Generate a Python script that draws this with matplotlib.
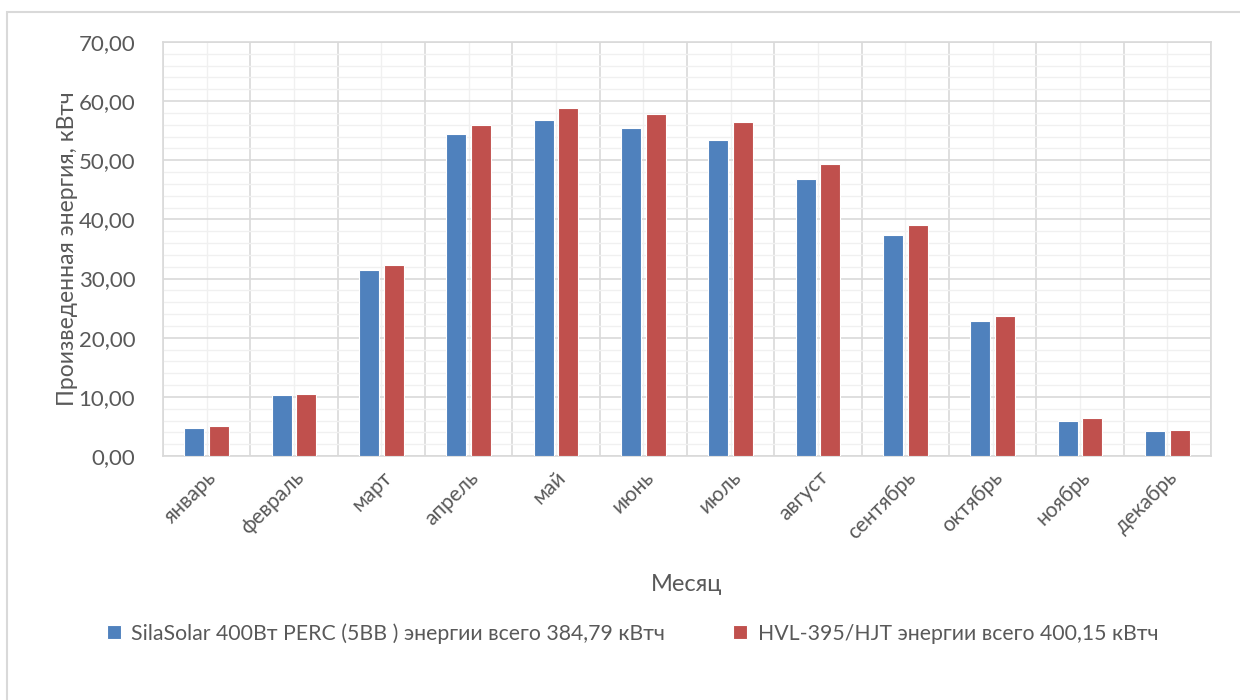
import matplotlib
matplotlib.use("Agg")
import matplotlib.pyplot as plt
import numpy as np
from matplotlib.ticker import MultipleLocator, FixedLocator, FuncFormatter
from matplotlib.patches import Rectangle

# --- данные ---
months = ["январь", "февраль", "март", "апрель", "май", "июнь",
          "июль", "август", "сентябрь", "октябрь", "ноябрь", "декабрь"]
perc = [4.80, 10.26, 31.50, 54.45, 56.80, 55.50,
        53.50, 46.80, 37.30, 22.80, 5.90, 4.17]
hjt = [5.07, 10.48, 32.35, 55.97, 58.80, 57.90,
       56.40, 49.40, 39.06, 23.70, 6.37, 4.40]
label_perc = "SilaSolar 400Вт PERC (5BB ) энергии всего 384,79 кВтч"
label_hjt = "HVL-395/HJT энергии всего 400,15 кВтч"

BLUE = "#4f81bd"
RED = "#c0504d"
TXT = "#595959"
GRID = "#d9d9d9"
MINOR = "#f0f0f0"

plt.rcParams["font.family"] = ["Lato", "DejaVu Sans"]

fig = plt.figure(figsize=(12.4, 7.0), dpi=100)
fig.patches.append(Rectangle((7 / 1240, -0.1), 1.2, 1 - 12 / 700 + 0.1,
                             transform=fig.transFigure, fill=False,
                             edgecolor="#d9d9d9", linewidth=1.5))

ax = fig.add_axes([163 / 1240, 1 - 456 / 700, (1211 - 163) / 1240, (456 - 42) / 700])

x = np.arange(len(months))
w = 0.23
ax.bar(x - 0.14, perc, w, color=BLUE, edgecolor="white", linewidth=0.8,
       label=label_perc, zorder=3)
ax.bar(x + 0.14, hjt, w, color=RED, edgecolor="white", linewidth=0.8,
       label=label_hjt, zorder=3)

ax.set_xlim(-0.5, len(months) - 0.5)
ax.set_ylim(0, 70)

ax.yaxis.set_major_locator(MultipleLocator(10))
ax.yaxis.set_minor_locator(MultipleLocator(2))
ax.yaxis.set_major_formatter(FuncFormatter(lambda v, p: f"{v:.2f}".replace(".", ",")))
ax.set_xticks(x)
ax.set_xticklabels(months, rotation=45, ha="right", rotation_mode="anchor")
ax.xaxis.set_minor_locator(FixedLocator(np.arange(-0.5, len(months), 1.0)))

ax.grid(which="major", axis="y", color=GRID, linewidth=1.2, zorder=0)
ax.grid(which="minor", axis="y", color=MINOR, linewidth=1.0, zorder=0)
ax.grid(which="minor", axis="x", color=GRID, linewidth=1.2, zorder=0)
ax.grid(which="major", axis="x", color=MINOR, linewidth=1.0, zorder=0)
ax.set_axisbelow(True)

for s in ax.spines.values():
    s.set_color(GRID)
    s.set_linewidth(1.2)

ax.tick_params(which="both", length=0)
ax.tick_params(axis="y", labelsize=16, labelcolor=TXT, pad=20)
ax.tick_params(axis="x", labelsize=15, labelcolor=TXT, pad=8)

ax.set_ylabel("Произведенная энергия, кВтч", fontsize=16.5, color=TXT, labelpad=0)
ax.set_xlabel("Месяц", fontsize=17, color=TXT, labelpad=22)

fig.legend(loc="upper center", bbox_to_anchor=(0.51, 1 - 604 / 700), ncol=2,
           frameon=False, fontsize=15.3, labelcolor=TXT, handlelength=0.65,
           handleheight=0.65, handletextpad=0.5, columnspacing=3.2)

fig.savefig("out.png", dpi=100)
